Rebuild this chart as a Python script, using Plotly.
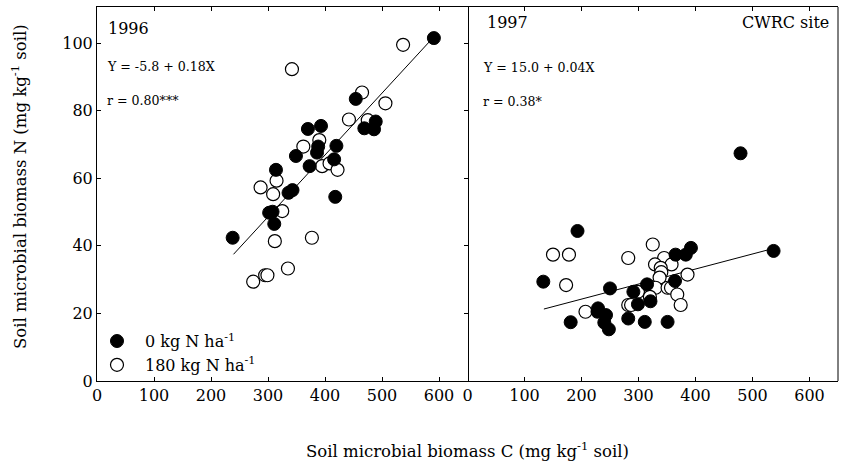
import plotly.graph_objects as go
from plotly.subplots import make_subplots

# ---- 1996 panel data ----
c96_0N = [591, 454, 489, 469, 486, 370, 393, 420, 349, 388, 386, 416, 373, 314, 336, 343, 418, 302, 308, 311, 238]
n96_0N = [101.5, 83.5, 76.8, 74.8, 74.5, 74.6, 75.5, 69.6, 66.6, 69.4, 67.6, 65.6, 63.6, 62.5, 55.7, 56.5, 54.5, 49.8, 50.1, 46.5, 42.4]
c96_180N = [537, 342, 465, 506, 442, 475, 362, 390, 395, 408, 422, 315, 287, 309, 325, 312, 377, 335, 295, 299, 274]
n96_180N = [99.5, 92.3, 85.4, 82.2, 77.4, 77.2, 69.4, 71.3, 63.6, 64.4, 62.5, 59.3, 57.3, 55.3, 50.3, 41.4, 42.4, 33.3, 31.3, 31.3, 29.4]

# ---- 1997 panel data ----
c97_0N = [479, 537, 193, 133, 250, 181, 229, 228, 243, 240, 248, 282, 311, 351, 291, 299, 321, 315, 364, 365, 383, 392]
n97_0N = [67.4, 38.5, 44.4, 29.4, 27.4, 17.4, 21.5, 20.5, 19.5, 17.3, 15.3, 18.5, 17.5, 17.5, 26.4, 22.7, 23.6, 28.6, 29.6, 37.4, 37.4, 39.4]
c97_180N = [150, 178, 173, 207, 282, 325, 345, 358, 329, 339, 340, 337, 386, 330, 351, 357, 299, 368, 374, 282, 287, 320]
n97_180N = [37.4, 37.4, 28.4, 20.5, 36.4, 40.4, 36.4, 34.5, 34.5, 33.5, 32.2, 30.6, 31.5, 27.6, 27.6, 27.6, 26.4, 25.6, 22.5, 22.5, 22.5, 24.9]

# regression lines (end points as drawn)
fit96_x = [239.5, 589]
fit96_y = [37.5, 101.5]
fit97_x = [134, 536]
fit97_y = [21.3, 39.2]

x_ticks = [0, 100, 200, 300, 400, 500, 600]
y_ticks = [0, 20, 40, 60, 80, 100]

FONT = "DejaVu Serif"

fig = make_subplots(rows=1, cols=2, shared_yaxes=False, horizontal_spacing=0)

filled = dict(symbol="circle", size=13, color="black", line=dict(color="black", width=1))
hollow = dict(symbol="circle", size=13, color="white", line=dict(color="black", width=1.2))

fig.add_trace(go.Scatter(x=fit96_x, y=fit96_y, mode="lines", line=dict(color="black", width=1), showlegend=False), 1, 1)
fig.add_trace(go.Scatter(x=fit97_x, y=fit97_y, mode="lines", line=dict(color="black", width=1), showlegend=False), 1, 2)

fig.add_trace(go.Scatter(x=c96_180N, y=n96_180N, mode="markers", marker=hollow,
                         name="180 kg N ha<sup>-1</sup>", legendgroup="b", legendrank=2), 1, 1)
fig.add_trace(go.Scatter(x=c96_0N, y=n96_0N, mode="markers", marker=filled,
                         name="0 kg N ha<sup>-1</sup>", legendgroup="a", legendrank=1), 1, 1)
fig.add_trace(go.Scatter(x=c97_180N, y=n97_180N, mode="markers", marker=hollow, showlegend=False), 1, 2)
fig.add_trace(go.Scatter(x=c97_0N, y=n97_0N, mode="markers", marker=filled, showlegend=False), 1, 2)

fig.update_xaxes(range=[0, 650], tickvals=x_ticks, ticks="inside", ticklen=4, tickwidth=1,
                 tickcolor="black", showline=True, linecolor="black", linewidth=1, mirror="ticks",
                 showgrid=False, zeroline=False, tickfont=dict(family=FONT, size=16, color="black"))
fig.update_yaxes(range=[0, 110.7], tickvals=y_ticks, ticks="inside", ticklen=4, tickwidth=1,
                 tickcolor="black", showline=True, linecolor="black", linewidth=1, mirror="ticks",
                 showgrid=False, zeroline=False, tickfont=dict(family=FONT, size=16, color="black"))
fig.update_yaxes(showticklabels=False, showline=False, ticks="", row=1, col=2)
fig.add_shape(type="line", xref="x2 domain", yref="y2 domain", x0=1, x1=1, y0=0, y1=1,
              line=dict(color="black", width=1))

ann = []
def txt(x, y, s, xref, yref, size, xanchor="left"):
    ann.append(dict(x=x, y=y, xref=xref, yref=yref, text=s, showarrow=False, xanchor=xanchor,
                    yanchor="middle", font=dict(family=FONT, size=size, color="black")))

txt(15, 104.3, "1996", "x", "y", 16)
txt(14, 93, "Y = -5.8 + 0.18X", "x", "y", 12.6)
txt(14, 83, "r = 0.80***", "x", "y", 12.6)
txt(31, 106.0, "1997", "x2", "y2", 16)
txt(638, 106.0, "CWRC site", "x2", "y2", 16, xanchor="right")
txt(23, 92.7, "Y = 15.0 + 0.04X", "x2", "y2", 12.6)
txt(23, 82.7, "r = 0.38*", "x2", "y2", 12.6)

ann.append(dict(x=0.5, y=-0.185, xref="paper", yref="paper", yanchor="middle", xanchor="center",
                text="Soil microbial biomass C (mg kg<sup>-1</sup> soil)", showarrow=False,
                font=dict(family=FONT, size=16.5, color="black")))
ann.append(dict(x=-0.106, y=0.52, xref="paper", yref="paper", yanchor="middle", xanchor="center",
                text="Soil microbial biomass N (mg kg<sup>-1</sup> soil)", showarrow=False, textangle=-90,
                font=dict(family=FONT, size=16.5, color="black")))

fig.update_layout(
    width=844, height=462,
    margin=dict(l=97, r=6, t=7, b=81),
    paper_bgcolor="white", plot_bgcolor="white",
    annotations=ann,
    legend=dict(x=-0.0108, y=-0.003, xanchor="left", yanchor="bottom", bgcolor="rgba(0,0,0,0)",
                itemwidth=46, font=dict(family=FONT, size=16, color="black"),
                tracegroupgap=5, traceorder="normal"),
)

fig.write_html("out.html")
